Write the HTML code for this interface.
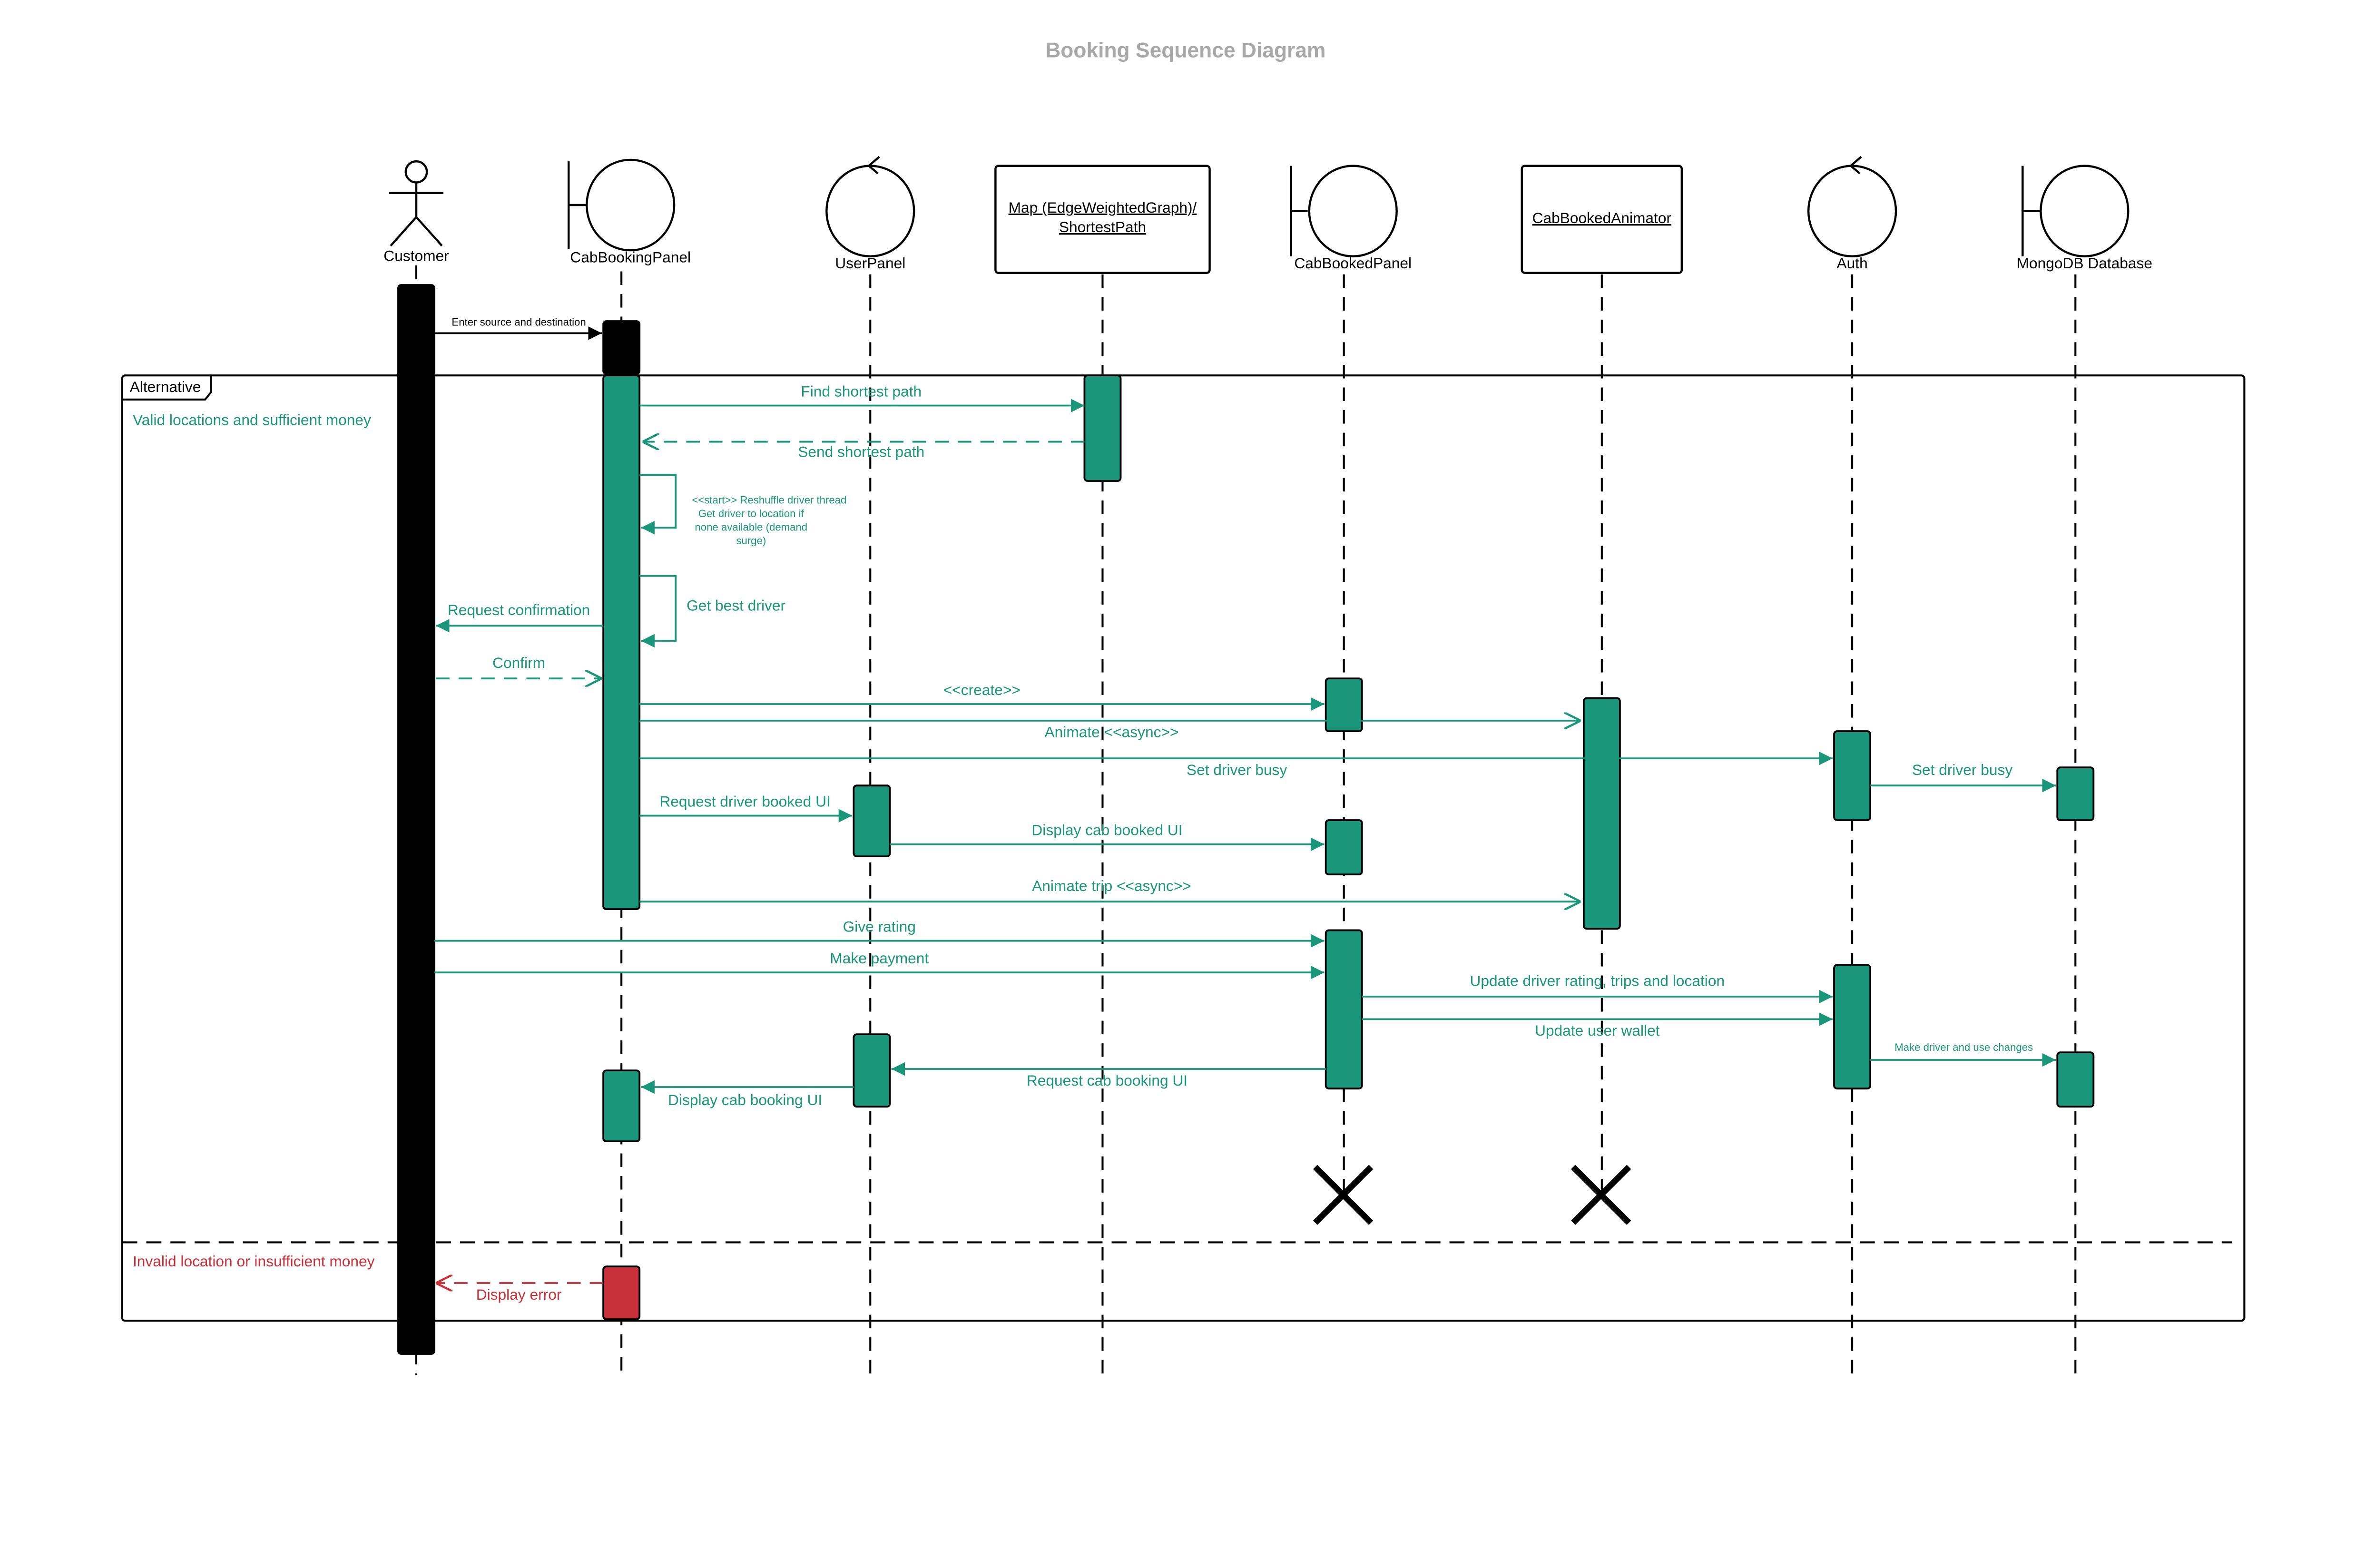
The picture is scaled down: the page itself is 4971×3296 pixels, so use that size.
<!DOCTYPE html>
<html><head><meta charset="utf-8"><style>html,body{margin:0;padding:0;background:#fff}svg{display:block}</style></head>
<body>
<svg width="4971" height="3296" viewBox="0 0 1568 1040" preserveAspectRatio="none" xmlns="http://www.w3.org/2000/svg" font-family="Liberation Sans, sans-serif">
<defs>
<marker id="fg" viewBox="0 0 10 10" refX="10" refY="5" markerWidth="9" markerHeight="9" markerUnits="userSpaceOnUse" orient="auto"><path d="M0,0 L10,5 L0,10z" fill="#1a967a"/></marker>
<marker id="fk" viewBox="0 0 10 10" refX="10" refY="5" markerWidth="9" markerHeight="9" markerUnits="userSpaceOnUse" orient="auto"><path d="M0,0 L10,5 L0,10z" fill="#000"/></marker>
<marker id="og" viewBox="0 0 10 10" refX="10" refY="5" markerWidth="11" markerHeight="11" markerUnits="userSpaceOnUse" orient="auto"><path d="M0,0 L10,5 L0,10" fill="none" stroke="#1a967a" stroke-width="1.3"/></marker>
<marker id="or" viewBox="0 0 10 10" refX="10" refY="5" markerWidth="11" markerHeight="11" markerUnits="userSpaceOnUse" orient="auto"><path d="M0,0 L10,5 L0,10" fill="none" stroke="#c8303a" stroke-width="1.3"/></marker>
</defs>
<text x="786" y="38" text-anchor="middle" font-size="14" font-weight="bold" fill="#a8a8a8">Booking Sequence Diagram</text>

<g stroke="#000" stroke-width="1.3" stroke-dasharray="9,6" fill="none">
<line x1="276" y1="176" x2="276" y2="912"/>
<line x1="412" y1="180" x2="412" y2="912"/>
<line x1="577" y1="182" x2="577" y2="912"/>
<line x1="731" y1="182" x2="731" y2="912"/>
<line x1="891" y1="182" x2="891" y2="790"/>
<line x1="1062" y1="182" x2="1062" y2="790"/>
<line x1="1228" y1="182" x2="1228" y2="912"/>
<line x1="1376" y1="182" x2="1376" y2="912"/>
</g>

<g stroke="#000" stroke-width="1.4" fill="none">
<circle cx="276" cy="114" r="7"/>
<line x1="276" y1="121" x2="276" y2="144"/>
<line x1="258" y1="128" x2="294" y2="128"/>
<line x1="276" y1="144" x2="259" y2="163"/>
<line x1="276" y1="144" x2="293" y2="163"/>
<line x1="377" y1="107" x2="377" y2="165"/>
<line x1="377" y1="136" x2="389" y2="136"/>
<ellipse cx="418" cy="136" rx="29" ry="30"/>
<ellipse cx="577" cy="140" rx="29" ry="30"/>
<path d="M583,104 L576,110 L582,115"/>
<rect x="660" y="110" width="142" height="71" rx="2"/>
<line x1="856" y1="110" x2="856" y2="170"/>
<line x1="856" y1="140" x2="867" y2="140"/>
<ellipse cx="897" cy="140" rx="29" ry="30"/>
<rect x="1009" y="110" width="106" height="71" rx="2"/>
<ellipse cx="1228" cy="140" rx="29" ry="30"/>
<path d="M1234,104 L1227,110 L1233,115"/>
<line x1="1341" y1="110" x2="1341" y2="170"/>
<line x1="1341" y1="140" x2="1353" y2="140"/>
<ellipse cx="1382" cy="140" rx="29" ry="30"/>
</g>
<g font-size="10" fill="#000" text-anchor="middle">
<text x="276" y="173">Customer</text>
<text x="418" y="174">CabBookingPanel</text>
<text x="577" y="178">UserPanel</text>
<text x="731" y="141" text-decoration="underline">Map (EdgeWeightedGraph)/</text>
<text x="731" y="154" text-decoration="underline">ShortestPath</text>
<text x="897" y="178">CabBookedPanel</text>
<text x="1062" y="148" text-decoration="underline">CabBookedAnimator</text>
<text x="1228" y="178">Auth</text>
<text x="1382" y="178">MongoDB Database</text>
</g>

<rect x="81" y="249" width="1407" height="627" rx="2" fill="none" stroke="#000" stroke-width="1.3"/>
<path d="M81,265 L136,265 L140,260 L140,249" fill="none" stroke="#000" stroke-width="1.3"/>
<text x="86" y="260" font-size="10">Alternative</text>
<line x1="81" y1="824" x2="1480" y2="824" stroke="#000" stroke-width="1.3" stroke-dasharray="10,6"/>
<text x="88" y="282" font-size="10" fill="#1a967a">Valid locations and sufficient money</text>
<text x="88" y="840" font-size="10" fill="#c8303a">Invalid location or insufficient money</text>

<g stroke="#000" stroke-width="1.2">
<rect x="264" y="189" width="24" height="709" rx="2" fill="#000"/>
<rect x="400" y="213" width="24" height="35" rx="2" fill="#000"/>
<g fill="#1a967a">
<rect x="400" y="249" width="24" height="354" rx="2"/>
<rect x="400" y="710" width="24" height="47" rx="2"/>
<rect x="719" y="249" width="24" height="70" rx="2"/>
<rect x="879" y="450" width="24" height="35" rx="2"/>
<rect x="879" y="544" width="24" height="36" rx="2"/>
<rect x="879" y="617" width="24" height="105" rx="2"/>
<rect x="1050" y="463" width="24" height="153" rx="2"/>
<rect x="566" y="521" width="24" height="47" rx="2"/>
<rect x="566" y="686" width="24" height="48" rx="2"/>
<rect x="1216" y="485" width="24" height="59" rx="2"/>
<rect x="1216" y="640" width="24" height="82" rx="2"/>
<rect x="1364" y="509" width="24" height="35" rx="2"/>
<rect x="1364" y="698" width="24" height="36" rx="2"/>
</g>
<rect x="400" y="840" width="24" height="35" rx="2" fill="#c8303a"/>
</g>

<line x1="288" y1="221" x2="399" y2="221" stroke="#000" stroke-width="1.2" marker-end="url(#fk)"/>
<text x="344" y="216" font-size="7" text-anchor="middle">Enter source and destination</text>
<g stroke="#1a967a" stroke-width="1.2" fill="none">
<line x1="424" y1="269" x2="719" y2="269" marker-end="url(#fg)"/>
<line x1="719" y1="293" x2="426" y2="293" stroke-dasharray="9,6" marker-end="url(#og)"/>
<path d="M424,315 H448 V350 H425" marker-end="url(#fg)"/>
<path d="M424,382 H448 V425 H425" marker-end="url(#fg)"/>
<line x1="400" y1="415" x2="289" y2="415" marker-end="url(#fg)"/>
<line x1="289" y1="450" x2="399" y2="450" stroke-dasharray="9,6" marker-end="url(#og)"/>
<line x1="424" y1="467" x2="878" y2="467" marker-end="url(#fg)"/>
<line x1="424" y1="478" x2="1048" y2="478" marker-end="url(#og)"/>
<line x1="424" y1="503" x2="1215" y2="503" marker-end="url(#fg)"/>
<line x1="1240" y1="521" x2="1363" y2="521" marker-end="url(#fg)"/>
<line x1="424" y1="541" x2="565" y2="541" marker-end="url(#fg)"/>
<line x1="590" y1="560" x2="878" y2="560" marker-end="url(#fg)"/>
<line x1="424" y1="598" x2="1048" y2="598" marker-end="url(#og)"/>
<line x1="288" y1="624" x2="878" y2="624" marker-end="url(#fg)"/>
<line x1="288" y1="645" x2="878" y2="645" marker-end="url(#fg)"/>
<line x1="903" y1="661" x2="1215" y2="661" marker-end="url(#fg)"/>
<line x1="903" y1="676" x2="1215" y2="676" marker-end="url(#fg)"/>
<line x1="1240" y1="703" x2="1363" y2="703" marker-end="url(#fg)"/>
<line x1="879" y1="709" x2="591" y2="709" marker-end="url(#fg)"/>
<line x1="566" y1="721" x2="425" y2="721" marker-end="url(#fg)"/>
</g>
<line x1="400" y1="851" x2="289" y2="851" stroke="#c8303a" stroke-width="1.2" stroke-dasharray="9,6" marker-end="url(#or)"/>
<g font-size="10" fill="#1a967a" text-anchor="middle">
<text x="571" y="263">Find shortest path</text>
<text x="571" y="303">Send shortest path</text>
<text x="344" y="408">Request confirmation</text>
<text x="344" y="443">Confirm</text>
<text x="651" y="461">&lt;&lt;create&gt;&gt;</text>
<text x="737" y="489">Animate &lt;&lt;async&gt;&gt;</text>
<text x="820" y="514">Set driver busy</text>
<text x="1301" y="514">Set driver busy</text>
<text x="494" y="535">Request driver booked UI</text>
<text x="734" y="554">Display cab booked UI</text>
<text x="737" y="591">Animate trip &lt;&lt;async&gt;&gt;</text>
<text x="583" y="618">Give rating</text>
<text x="583" y="639">Make payment</text>
<text x="1059" y="654">Update driver rating, trips and location</text>
<text x="1059" y="687">Update user wallet</text>
<text x="734" y="720">Request cab booking UI</text>
<text x="494" y="733">Display cab booking UI</text>
<text x="488" y="405" text-anchor="middle">Get best driver</text>
<text x="1302" y="697" font-size="7">Make driver and use changes</text>
<g font-size="7">
<text x="510" y="334">&lt;&lt;start&gt;&gt; Reshuffle driver thread</text>
<text x="498" y="343">Get driver to location if</text>
<text x="498" y="352">none available (demand</text>
<text x="498" y="361">surge)</text>
</g>
</g>
<text x="344" y="862" font-size="10" fill="#c8303a" text-anchor="middle">Display error</text>

<g stroke="#000" stroke-width="4">
<line x1="872" y1="774" x2="909" y2="811"/><line x1="909" y1="774" x2="872" y2="811"/>
<line x1="1043" y1="774" x2="1080" y2="811"/><line x1="1080" y1="774" x2="1043" y2="811"/>
</g>
</svg>
</body></html>
